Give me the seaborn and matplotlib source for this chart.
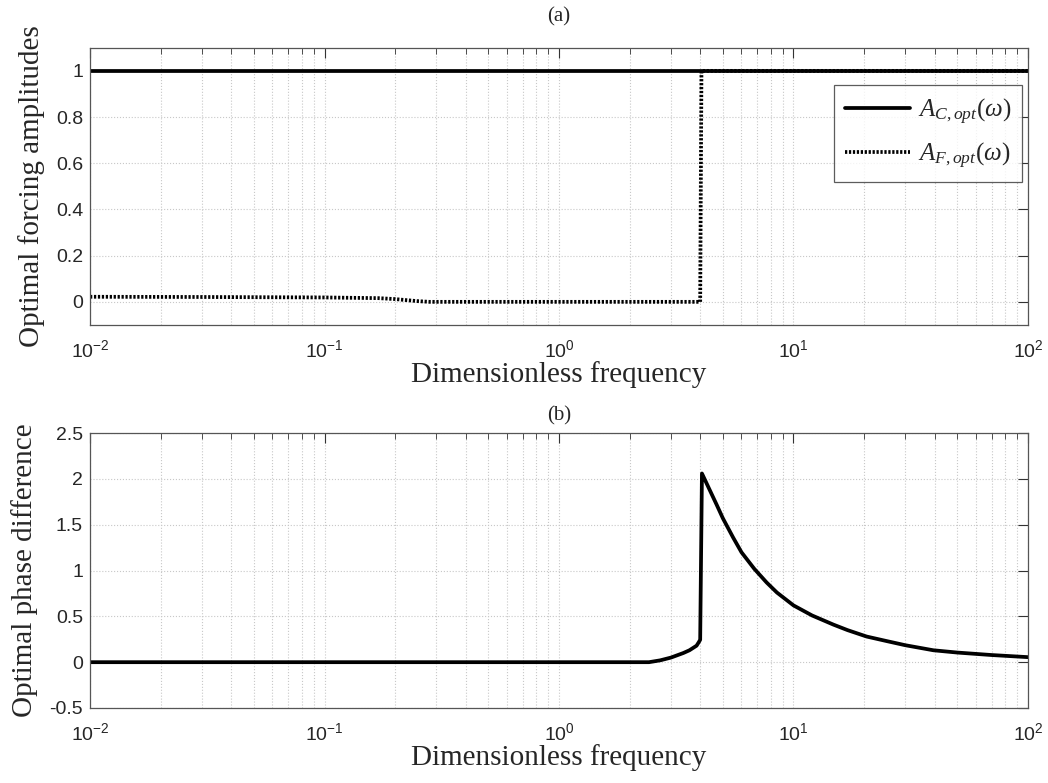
import numpy as np
import pandas as pd
import matplotlib
matplotlib.use("Agg")
import matplotlib.pyplot as plt
import matplotlib.ticker as mticker
import seaborn as sns

# Panel (a): optimal forcing amplitudes
freq_c = [0.01, 100.0]
amp_c = [1.0, 1.0]

freq_f = [0.01, 0.03, 0.1, 0.17, 0.2, 0.22, 0.25, 0.28, 1.0, 4.0, 4.05, 100.0]
amp_f = [0.022, 0.021, 0.019, 0.016, 0.012, 0.008, 0.003, 0.0, 0.0, 0.0, 1.0, 1.0]

# Panel (b): optimal phase difference
freq_p = [0.01, 1.0, 2.42, 2.7, 3.0, 3.39, 3.6, 3.86, 3.95, 4.0, 4.07, 4.3, 4.7,
          5.0, 5.53, 6.0, 6.8, 7.68, 8.5, 10.0, 12.0, 14.8, 17.0, 20.5, 25.0,
          30.0, 39.5, 50.0, 70.0, 100.0]
phase_p = [0.0, 0.0, 0.0, 0.02, 0.05, 0.10, 0.13, 0.18, 0.22, 0.245, 2.06, 1.93, 1.72,
           1.57, 1.36, 1.20, 1.02, 0.87, 0.76, 0.62, 0.51, 0.41, 0.35, 0.28, 0.23,
           0.185, 0.13, 0.105, 0.078, 0.055]

sns.set_style("white")
plt.rcParams["font.family"] = ["Liberation Sans", "DejaVu Sans"]
plt.rcParams["mathtext.fontset"] = "custom"
plt.rcParams["mathtext.rm"] = "Liberation Serif"
plt.rcParams["mathtext.it"] = "Liberation Serif:italic"
plt.rcParams["mathtext.sf"] = "Liberation Sans"

df_c = pd.DataFrame({"freq": freq_c, "amp": amp_c})
df_f = pd.DataFrame({"freq": freq_f, "amp": amp_f})
df_p = pd.DataFrame({"freq": freq_p, "phase": phase_p})

fig = plt.figure(figsize=(10.48, 7.83), dpi=100)
ax1 = fig.add_axes([0.0859, 0.585, 0.895, 0.354])
ax2 = fig.add_axes([0.0859, 0.0958, 0.895, 0.351])

sns.lineplot(data=df_c, x="freq", y="amp", ax=ax1, color="black", lw=2.7,
             estimator=None, sort=False, label=r"$A_{C,opt}(\omega)$")
sns.lineplot(data=df_f, x="freq", y="amp", ax=ax1, color="black", lw=2.7,
             estimator=None, sort=False, linestyle=(0, (0.6, 0.45)),
             label=r"$A_{F,opt}(\omega)$")
sns.lineplot(data=df_p, x="freq", y="phase", ax=ax2, color="black", lw=2.7,
             estimator=None, sort=False)

label_font = dict(family="Liberation Serif", size=21)
title_font = dict(family="Liberation Serif", size=15)


def fmt_log(x, pos):
    return r"$\mathsf{10^{%d}}$" % int(round(np.log10(x)))


for ax in (ax1, ax2):
    ax.set_xscale("log")
    ax.set_xlim(0.01, 100)
    ax.xaxis.set_major_locator(mticker.LogLocator(base=10, numticks=10))
    ax.xaxis.set_minor_locator(mticker.LogLocator(base=10, subs=np.arange(2, 10), numticks=10))
    ax.xaxis.set_major_formatter(mticker.FuncFormatter(fmt_log))
    ax.xaxis.set_minor_formatter(mticker.NullFormatter())
    ax.grid(True, which="both", axis="x", color="#c8c8c8", linestyle=":", lw=0.8)
    ax.grid(True, which="major", axis="y", color="#c8c8c8", linestyle=":", lw=0.8)
    ax.tick_params(which="both", direction="in", top=True, right=True,
                   labelsize=14, color="#333333")
    ax.tick_params(which="major", length=7)
    ax.tick_params(which="minor", length=4.5)
    ax.tick_params(axis="x", which="major", pad=10)
    ax.tick_params(axis="y", which="major", pad=5)
    for sp in ax.spines.values():
        sp.set_color("#555555")
        sp.set_linewidth(0.9)
    ax.set_xlabel("Dimensionless frequency", fontdict=label_font, labelpad=0)

ax1.set_ylim(-0.1, 1.1)
ax1.set_yticks([0, 0.2, 0.4, 0.6, 0.8, 1])
ax1.set_yticklabels(["0", "0.2", "0.4", "0.6", "0.8", "1"])
ax1.set_ylabel("Optimal forcing amplitudes", fontdict=label_font, labelpad=8)
ax1.set_title("(a)", fontdict=title_font, pad=19)

ax2.set_ylim(-0.5, 2.5)
ax2.set_yticks([-0.5, 0, 0.5, 1, 1.5, 2, 2.5])
ax2.set_yticklabels(["-0.5", "0", "0.5", "1", "1.5", "2", "2.5"])
ax2.set_ylabel("Optimal phase difference", fontdict=label_font, labelpad=8)
ax2.set_title("(b)", fontdict=title_font, pad=9)

leg = ax1.legend(loc="upper right", bbox_to_anchor=(0.994, 0.864), fontsize=18,
                 frameon=True, fancybox=False, handlelength=2.6, handletextpad=0.3,
                 borderpad=0.45, labelspacing=0.55, borderaxespad=0)
leg.get_frame().set_edgecolor("#333333")
leg.get_frame().set_linewidth(0.9)

fig.savefig("out.png", dpi=100)
